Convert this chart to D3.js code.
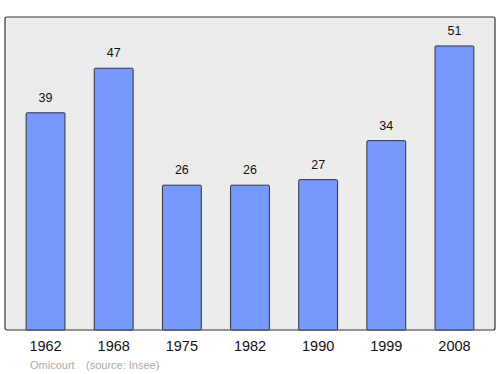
<!DOCTYPE html>
<html>
<head>
<meta charset="utf-8">
<script src="https://cdn.jsdelivr.net/npm/d3@7"></script>
<style>
  body { margin: 0; background: #fff; }
  text { font-family: "Liberation Sans", Arial, sans-serif; }
</style>
</head>
<body>
<div id="chart"></div>
<script>
var years = ['1962', '1968', '1975', '1982', '1990', '1999', '2008']
var population = [39, 47, 26, 26, 27, 34, 51]
var town = 'Omicourt'
var source = '(source: Insee)'

var width = 500, height = 374
var plot = { left: 5, right: 495, top: 17, bottom: 330 }

var svg = d3.select('#chart').append('svg')
    .attr('width', width).attr('height', height)

var x = d3.scaleBand().domain(years)
    .range([plot.left, plot.right])
    .paddingInner(0.43).paddingOuter(0.31)
var y = d3.scaleLinear().domain([0, 56.2]).range([plot.bottom, plot.top])

// plot background
svg.append('rect')
    .attr('x', plot.left).attr('y', plot.top)
    .attr('width', plot.right - plot.left).attr('height', plot.bottom - plot.top)
    .attr('rx', 2)
    .style('fill', '#ececec')
    .attr('stroke', '#333').attr('stroke-width', 1.2)

svg.append('g').selectAll('rect')
    .data(population).enter()
    .append('rect')
    .attr('x', function(d, i) { return x(years[i]) })
    .attr('y', function(d) { return y(d) })
    .attr('width', x.bandwidth())
    .attr('height', function(d) { return y(0) - y(d) })
    .attr('rx', 1)
    .style('fill', '#7799ff')
    .attr('stroke', '#333').attr('stroke-width', 1)

svg.append('g').selectAll('text')
    .data(population).enter()
    .append('text')
    .attr('x', function(d, i) { return x(years[i]) + x.bandwidth() / 2 })
    .attr('y', function(d) { return y(d) - 11 })
    .attr('text-anchor', 'middle')
    .style('font-size', '12.5px').style('fill', '#111')
    .text(function(d) { return d })

// x axis labels, no tick lines
var xAxis = svg.append('g')
    .attr('transform', 'translate(0,' + plot.bottom + ')')
    .call(d3.axisBottom(x).tickSize(0).tickPadding(11))
xAxis.select('.domain').remove()
xAxis.selectAll('text')
    .style('font-size', '14.5px').style('fill', '#111')
    .style('font-family', '"Liberation Sans", Arial, sans-serif')

svg.append('text')
    .attr('x', 30).attr('y', 369)
    .style('font-size', '11px').style('fill', '#aaa')
    .text(town)
svg.append('text')
    .attr('x', 86).attr('y', 369)
    .style('font-size', '11px').style('fill', '#aaa')
    .text(source)
</script>
</body>
</html>
